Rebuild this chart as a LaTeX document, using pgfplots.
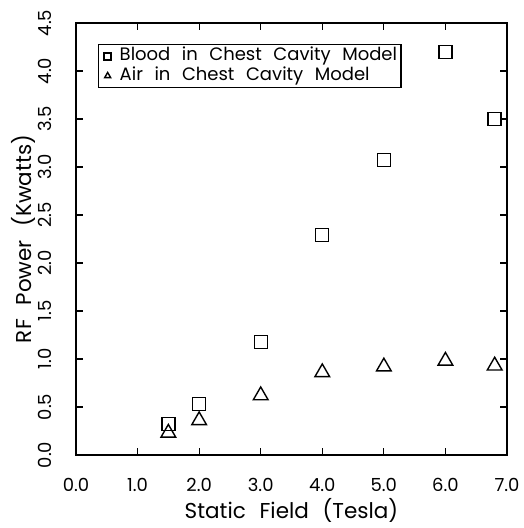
\documentclass[border=0pt]{standalone}
\usepackage{fontspec}
\setmainfont[WordSpace=2.4]{Poppins}
\usepackage{pgfplots}
\pgfplotsset{compat=1.18}
\begin{document}
\begin{tikzpicture}
\begin{axis}[
  at={(0pt,0pt)}, anchor=south west,
  scale only axis, width=431pt, height=432pt,
  xmin=0, xmax=7, ymin=0, ymax=4.5,
  xtick={0,1,...,7}, ytick={0,0.5,...,4.5},
  tick align=inside, major tick length=7pt,
  tick style={line width=1.2pt, black},
  axis line style={line width=1.4pt},
  /pgf/number format/assume math mode=true,
  /pgf/number format/.cd, fixed, fixed zerofill, precision=1, /pgfplots/.cd,
  ticklabel style={font=\fontsize{18}{20}\selectfont},
  xticklabel style={anchor=center, yshift=-30pt},
  yticklabel style={rotate=90, anchor=center, yshift=31pt},
  xlabel={Static Field (Tesla)},
  ylabel={RF Power (Kwatts)},
  label style={font=\fontsize{21.5}{24}\selectfont},
  xlabel style={at={(axis description cs:0.5,0)}, anchor=base, yshift=-63pt},
  ylabel style={at={(axis description cs:0,0.5)}, anchor=base, rotate=0, yshift=44pt},
  legend style={at={(22pt,411pt)}, anchor=north west, draw=black, line width=1.4pt,
    font=\fontsize{18}{20}\selectfont, inner sep=2pt, row sep=0pt,
    nodes={text height=12pt, text depth=3.5pt},
    legend cell align=left},
  legend image code/.code={\path (0pt,0pt) (0.55cm,0pt);\draw[mark size=3.5pt, line width=1pt] plot coordinates {(0.22cm,0pt)};},
]
\addplot[only marks, mark=square, mark size=6.5pt, mark options={line width=1.4pt, black}]
  coordinates {(1.5,0.32) (2.0,0.53) (3.0,1.18) (4.0,2.29) (5.0,3.07) (6.0,4.20) (6.8,3.50)};
\addlegendentry{Blood in Chest Cavity Model}
\addplot[only marks, mark=triangle, mark size=8.5pt, mark options={line width=1.4pt, black}]
  coordinates {(1.5,0.23) (2.0,0.36) (3.0,0.62) (4.0,0.86) (5.0,0.92) (6.0,0.98) (6.8,0.93)};
\addlegendentry{Air in Chest Cavity Model}
\end{axis}
\pgfresetboundingbox
\path (-76pt,-73pt) rectangle (448pt,455pt);
\end{tikzpicture}
\end{document}
